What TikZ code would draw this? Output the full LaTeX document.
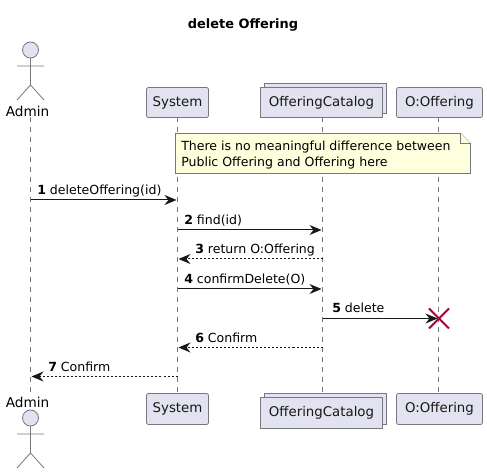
\documentclass[tikz,border=0pt]{standalone}
\usepackage{fontspec}
\usepackage{tikz}
\usepackage{xcolor}
\usetikzlibrary{arrows.meta}
\setmainfont{DejaVu Sans}

\definecolor{boxfill}{HTML}{E2E2F0}
\definecolor{boxline}{HTML}{77777F}
\definecolor{notefill}{HTML}{FEFFDD}
\definecolor{inkline}{HTML}{181818}
\definecolor{killred}{HTML}{A80036}

\tikzset{
  partbox/.style={draw=boxline,fill=boxfill,rounded corners=1.5pt,line width=0.6pt,inner sep=0pt,text=inkline},
  stackbox/.style={draw=boxline,fill=boxfill,line width=0.7pt},
  lifeline/.style={draw=boxline,line width=0.5pt,dash pattern=on 3.75pt off 3.75pt},
  callmsg/.style={draw=inkline,line width=0.75pt,-{Stealth[length=9pt,width=7.5pt,inset=3pt]}},
  backmsg/.style={callmsg,dash pattern=on 1.5pt off 1.5pt},
  msgtext/.style={anchor=base west,inner sep=0pt,font=\fontsize{9.4}{11}\selectfont,text=black},
  boxtext/.style={font=\fontsize{10}{12}\selectfont},
  actorline/.style={draw=boxline,line width=0.6pt}
}

\begin{document}
\begin{tikzpicture}[x=0.75pt,y=0.75pt,yscale=-1,xscale=1]
        \useasboundingbox (0,0) rectangle (487,474);

        % Title
        \node (title) [inner sep=0pt,font=\bfseries\fontsize{9.7}{11}\selectfont] at (243,25) {delete Offering};

        % Lifeline ends
        \coordinate (adminTop) at (30.5,117);
        \coordinate (adminEnd) at (30.5,393);
        \coordinate (systemTop) at (177.5,117);
        \coordinate (systemEnd) at (177.5,393);
        \coordinate (catalogTop) at (322.5,117);
        \coordinate (catalogEnd) at (322.5,393);
        \coordinate (offeringTop) at (438.5,117);
        \coordinate (offeringEnd) at (438.5,393);

        \draw [lifeline] (adminTop) -- (adminEnd);
        \draw [lifeline] (systemTop) -- (systemEnd);
        \draw [lifeline] (catalogTop) -- (catalogEnd);
        \draw [lifeline] (offeringTop) -- (offeringEnd);

        % Admin, top
        \draw [actorline,fill=boxfill] (30.5,50) circle [radius=8];
        \draw [actorline] (30.5,58) -- (30.5,85) (17,66) -- (44,66) (17,100) -- (30.5,85) -- (44,100);
        \node (adminHead) [inner sep=0pt,text=black,font=\fontsize{10.2}{12}\selectfont] at (27.5,111) {Admin};

        % Admin, bottom
        \node (adminFoot) [inner sep=0pt,text=black,font=\fontsize{10.2}{12}\selectfont] at (27.5,402) {Admin};
        \draw [actorline,fill=boxfill] (30.5,418) circle [radius=8];
        \draw [actorline] (30.5,426) -- (30.5,453) (17,434) -- (44,434) (17,468) -- (30.5,453) -- (44,468);

        % System
        \node (systemHead) [partbox,boxtext,minimum width=46.5pt,minimum height=22.5pt] at (177.5,102.5) {System};
        \node (systemFoot) [partbox,boxtext,minimum width=46.5pt,minimum height=23.25pt] at (177.5,409) {System};

        % OfferingCatalog
        \draw [stackbox] (264.5,83.5) rectangle (386.5,113.5);
        \node (catalogHead) [stackbox,boxtext,inner sep=0pt,text=inkline,minimum width=91.5pt,minimum height=22.5pt] at (321.5,102.5) {OfferingCatalog};
        \draw [stackbox] (264.5,393.5) rectangle (386.5,424.5);
        \node (catalogFoot) [stackbox,boxtext,inner sep=0pt,text=inkline,minimum width=91.5pt,minimum height=23.25pt] at (321.5,412.5) {OfferingCatalog};

        % O:Offering
        \node (offeringHead) [partbox,boxtext,minimum width=64.5pt,minimum height=22.5pt] at (439.5,102.5) {O:Offering};
        \node (offeringFoot) [partbox,boxtext,minimum width=64.5pt,minimum height=23.25pt] at (439.5,409) {O:Offering};

        % Note
        \draw [draw=boxline,fill=notefill,line width=0.6pt] (175.5,133.5) -- (460.5,133.5) -- (470.5,143.5) -- (470.5,173.5) -- (175.5,173.5) -- cycle;
        \draw [draw=boxline,fill=notefill,line width=0.6pt] (460.5,133.5) -- (460.5,143.5) -- (470.5,143.5);
        \node (noteText) [anchor=north west,inner sep=0pt,align=left,text=black,font=\fontsize{9.4}{12}\selectfont] at (181,141) {There is no meaningful difference between\\Public Offering and Offering here};

        % Message ends
        \coordinate (m1a) at (30.5,200);
        \coordinate (m1b) at (176.5,200);
        \coordinate (m2a) at (177.5,230);
        \coordinate (m2b) at (321.5,230);
        \coordinate (m3a) at (322.5,259);
        \coordinate (m3b) at (178.5,259);
        \coordinate (m4a) at (177.5,289);
        \coordinate (m4b) at (321.5,289);
        \coordinate (m5a) at (322.5,318.5);
        \coordinate (m5b) at (437.5,318.5);
        \coordinate (m6a) at (322.5,347.5);
        \coordinate (m6b) at (178.5,347.5);
        \coordinate (m7a) at (177.5,376.5);
        \coordinate (m7b) at (31.5,376.5);

        \draw [callmsg] (m1a) -- (m1b);
        \draw [callmsg] (m2a) -- (m2b);
        \draw [backmsg] (m3a) -- (m3b);
        \draw [callmsg] (m4a) -- (m4b);
        \draw [callmsg] (m5a) -- (m5b);
        \draw [backmsg] (m6a) -- (m6b);
        \draw [backmsg] (m7a) -- (m7b);

        % Message labels
        \node (t1) [msgtext] at (37,195) {\textbf{1} deleteOffering(id)};
        \node (t2) [msgtext] at (184,225) {\textbf{2} find(id)};
        \node (t3) [msgtext] at (195,254) {\textbf{3} return O:Offering};
        \node (t4) [msgtext] at (184,284) {\textbf{4} confirmDelete(O)};
        \node (t5) [msgtext] at (332,313) {\textbf{5} delete};
        \node (t6) [msgtext] at (195,343) {\textbf{6} Confirm};
        \node (t7) [msgtext] at (48,372) {\textbf{7} Confirm};

        % Destroy mark
        \coordinate (killMark) at (439,318.5);
        \draw [draw=killred,line width=1.5pt] ([shift={(-10,-10)}]killMark) -- ([shift={(10,10)}]killMark) ([shift={(-10,10)}]killMark) -- ([shift={(10,-10)}]killMark);

\end{tikzpicture}
\end{document}
